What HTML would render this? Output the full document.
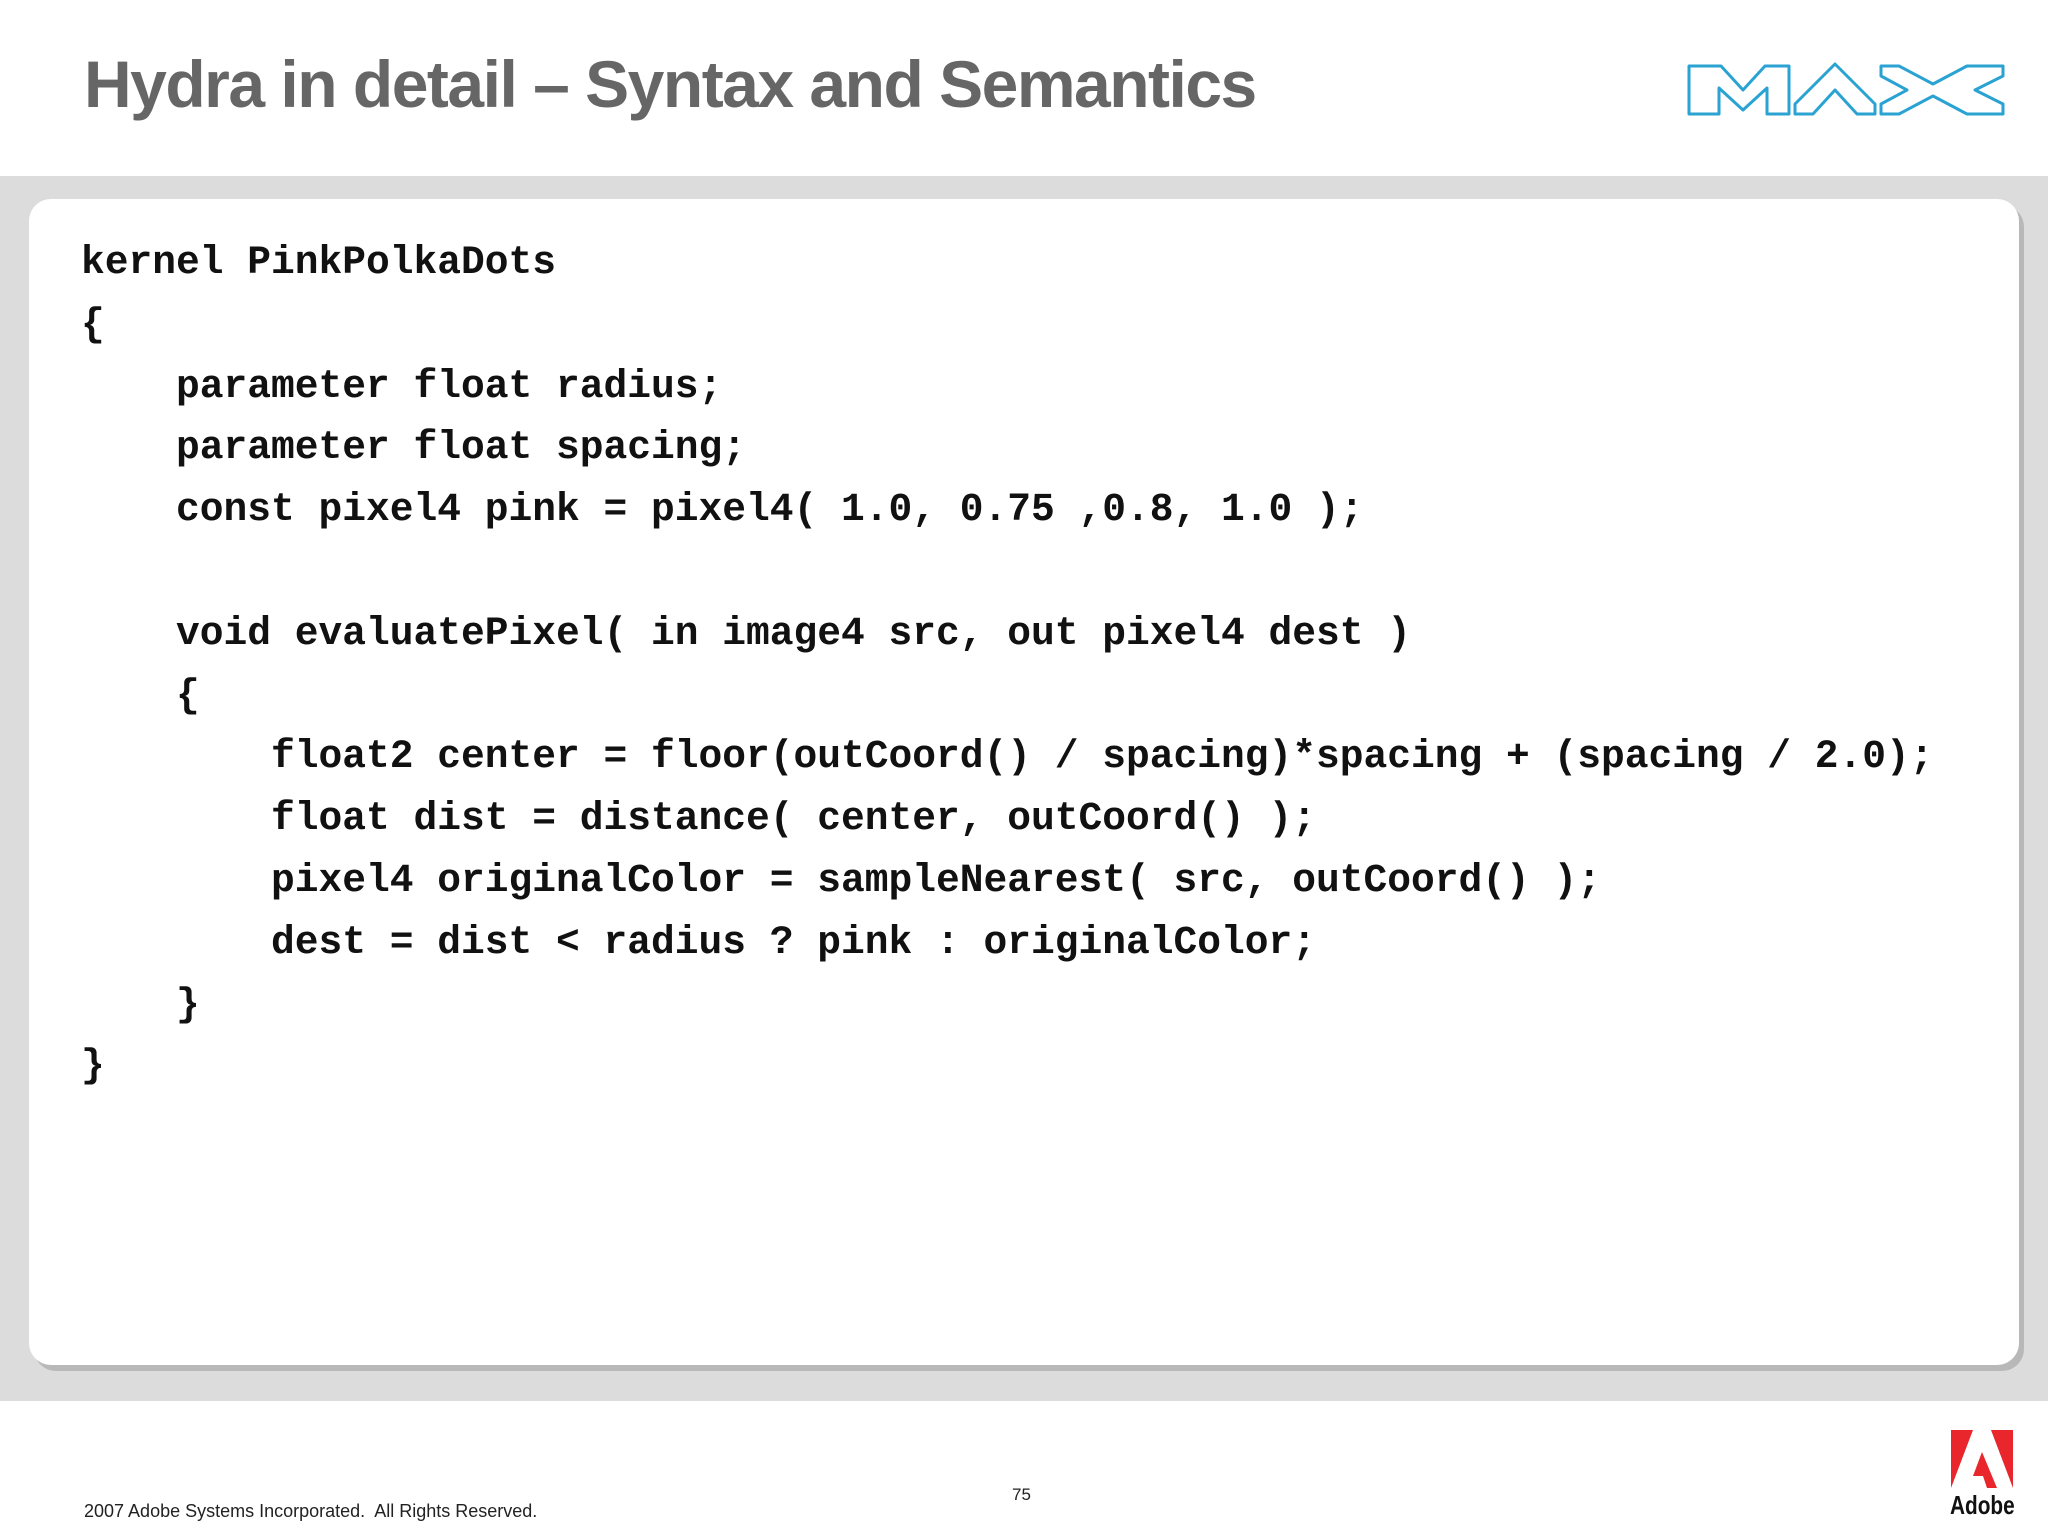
<!DOCTYPE html>
<html><head><meta charset="utf-8"><style>
html,body{margin:0;padding:0;}
body{width:2048px;height:1536px;position:relative;background:#fff;overflow:hidden;font-family:"Liberation Sans",sans-serif;}
.title{position:absolute;left:84px;top:46px;font-size:66px;font-weight:bold;color:#666;letter-spacing:-1.5px;white-space:nowrap;}
.band{position:absolute;left:0;top:176px;width:2048px;height:1225px;background:#dcdcdc;}
.card{position:absolute;left:29px;top:199px;width:1990px;height:1166px;background:#fff;border-radius:22px;box-shadow:5px 6px 0 #b8b8b8;}
pre{position:absolute;left:81px;top:232px;margin:0;font-family:"Liberation Mono",monospace;font-weight:bold;font-size:39.6px;line-height:61.8px;color:#111;}
.foot{position:absolute;left:84px;top:1501px;font-size:18px;color:#222;}
.pg{position:absolute;left:1012px;top:1485px;font-size:17px;color:#222;}
.adobe{position:absolute;left:1950px;top:1490px;font-size:26px;font-weight:bold;color:#111;transform:scaleX(0.8);transform-origin:left;}
</style></head><body>
<div class="title">Hydra in detail – Syntax and Semantics</div>
<svg style="position:absolute;left:1685px;top:60px" width="330" height="62" viewBox="0 0 330 62">
<g fill="none" stroke="#2aa3d3" stroke-width="3" stroke-linejoin="round">
<path d="M4 6 H36 L58 30 L80 6 H104 V54 H82 V28 L58 50 L34 28 V54 H4 Z"/>
<path d="M110 54 V44 L150 4 L190 44 V54 H172 L150 30 L128 54 Z"/>
<path d="M196 6 H214 L248 24 L282 6 H318 V16 L290 30 L318 44 V54 H282 L248 36 L214 54 H196 V44 L222 30 L196 16 Z"/>
</g></svg>
<div class="band"></div>
<div class="card"></div>
<pre>kernel PinkPolkaDots
{
    parameter float radius;
    parameter float spacing;
    const pixel4 pink = pixel4( 1.0, 0.75 ,0.8, 1.0 );

    void evaluatePixel( in image4 src, out pixel4 dest )
    {
        float2 center = floor(outCoord() / spacing)*spacing + (spacing / 2.0);
        float dist = distance( center, outCoord() );
        pixel4 originalColor = sampleNearest( src, outCoord() );
        dest = dist &lt; radius ? pink : originalColor;
    }
}</pre>
<div class="foot">2007 Adobe Systems Incorporated.&nbsp; All Rights Reserved.</div>
<div class="pg">75</div>
<svg style="position:absolute;left:1951px;top:1430px" width="64" height="60" viewBox="0 0 64 60">
<path d="M0 0 H22 L0 58 Z" fill="#e8262b"/>
<path d="M40 0 H62 V58 Z" fill="#e8262b"/>
<path d="M31 22 L46 58 H36 L32 46 H22 Z" fill="#e8262b"/>
</svg>
<div class="adobe">Adobe</div>
</body></html>
